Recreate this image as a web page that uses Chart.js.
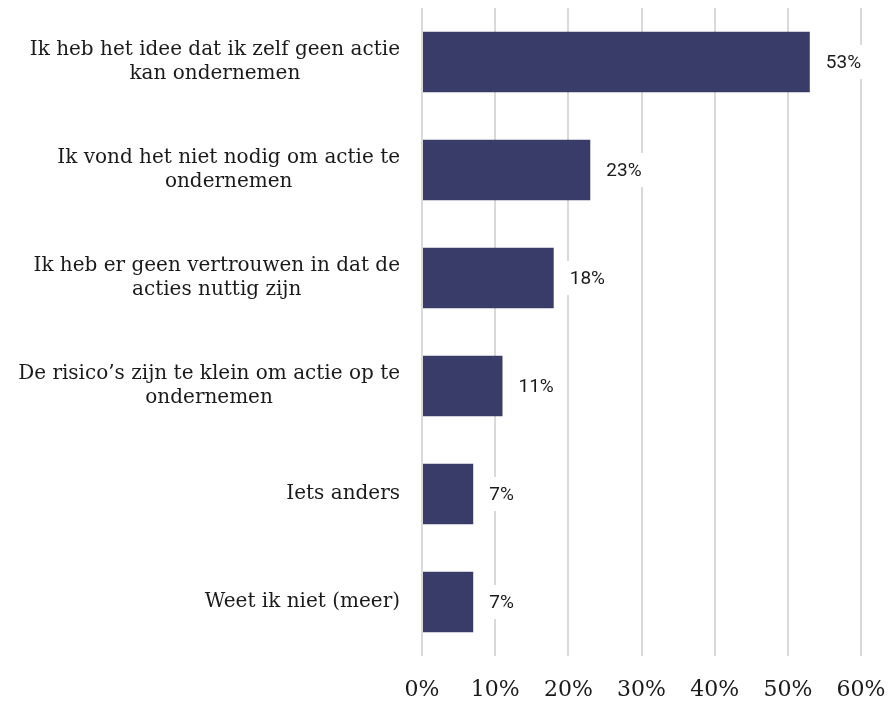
<!DOCTYPE html>
<html>
<head>
<meta charset="utf-8">
<script src="https://cdn.jsdelivr.net/npm/chart.js@4"></script>
<style>
  body { margin: 0; background: #fff; }
</style>
</head>
<body>
<canvas id="myChart" width="891" height="701"></canvas>
<script>
// data
const categories = [
    ['Ik heb het idee dat ik zelf geen actie', 'kan ondernemen'],
    ['Ik vond het niet nodig om actie te', 'ondernemen'],
    ['Ik heb er geen vertrouwen in dat de', 'acties nuttig zijn'],
    ['De risico\u2019s zijn te klein om actie op te', 'ondernemen'],
    ['Iets anders'],
    ['Weet ik niet (meer)']
];
const values = [53, 23, 18, 11, 7, 7];
const tickValues = [0, 10, 20, 30, 40, 50, 60];

const barColor = '#393c68';
const labelFont = '20px "DejaVu Serif", serif';

// category labels: block right-aligned, lines centered within the block
const categoryLabels = {
    id: 'categoryLabels',
    afterDraw(chart) {
        const ctx = chart.ctx;
        const yScale = chart.scales.y;
        const rightEdge = chart.chartArea.left - 22;
        const lineH = 24;
        ctx.save();
        ctx.font = labelFont;
        ctx.fillStyle = '#1a1a1a';
        ctx.textAlign = 'center';
        ctx.textBaseline = 'middle';
        categories.forEach((lines, i) => {
            const y = yScale.getPixelForValue(i);
            let maxW = 0;
            lines.forEach(l => { maxW = Math.max(maxW, ctx.measureText(l).width); });
            const cx = rightEdge - maxW / 2;
            const top = y - (lines.length - 1) * lineH / 2;
            lines.forEach((l, j) => {
                ctx.fillText(l, cx, top + j * lineH);
            });
        });
        ctx.restore();
    }
};

// value labels with white box behind them
const valueLabels = {
    id: 'valueLabels',
    afterDatasetsDraw(chart) {
        const ctx = chart.ctx;
        const meta = chart.getDatasetMeta(0);
        ctx.save();
        ctx.font = '19px Roboto, sans-serif';
        ctx.textBaseline = 'middle';
        ctx.textAlign = 'left';
        meta.data.forEach((bar, i) => {
            const txt = values[i] + '%';
            const w = ctx.measureText(txt).width;
            const x = bar.x + 8;
            ctx.fillStyle = '#fff';
            ctx.fillRect(x, bar.y - 17, w + 16, 34);
            ctx.fillStyle = '#1a1a1a';
            ctx.fillText(txt, x + 8, bar.y + 1);
        });
        ctx.restore();
    }
};

const ctx = document.getElementById('myChart');
const myChart = new Chart(ctx, {
    type: 'bar',
    data: {
        labels: categories.map(c => c.join(' ')),
        datasets: [{
            data: values,
            backgroundColor: barColor,
            borderWidth: 0,
            barPercentage: 0.56,
            categoryPercentage: 1
        }]
    },
    options: {
        indexAxis: 'y',
        responsive: false,
        animation: false,
        layout: {
            padding: { left: 422, right: 30, top: 8, bottom: 0 }
        },
        plugins: {
            legend: { display: false },
            tooltip: { enabled: false }
        },
        scales: {
            x: {
                min: 0,
                max: 60,
                afterBuildTicks: (scale) => {
                    scale.ticks = tickValues.map(v => ({ value: v }));
                },
                afterFit: (scale) => {
                    scale.height = 45;
                    scale.paddingLeft = 0;
                    scale.paddingRight = 0;
                },
                grid: {
                    color: '#d9d9d9',
                    lineWidth: 2,
                    drawTicks: false
                },
                border: { display: false },
                ticks: {
                    padding: 21,
                    color: '#1a1a1a',
                    font: { family: '"DejaVu Serif", serif', size: 22 },
                    callback: v => v + '%'
                }
            },
            y: {
                display: false
            }
        }
    },
    plugins: [categoryLabels, valueLabels]
});
</script>
</body>
</html>
